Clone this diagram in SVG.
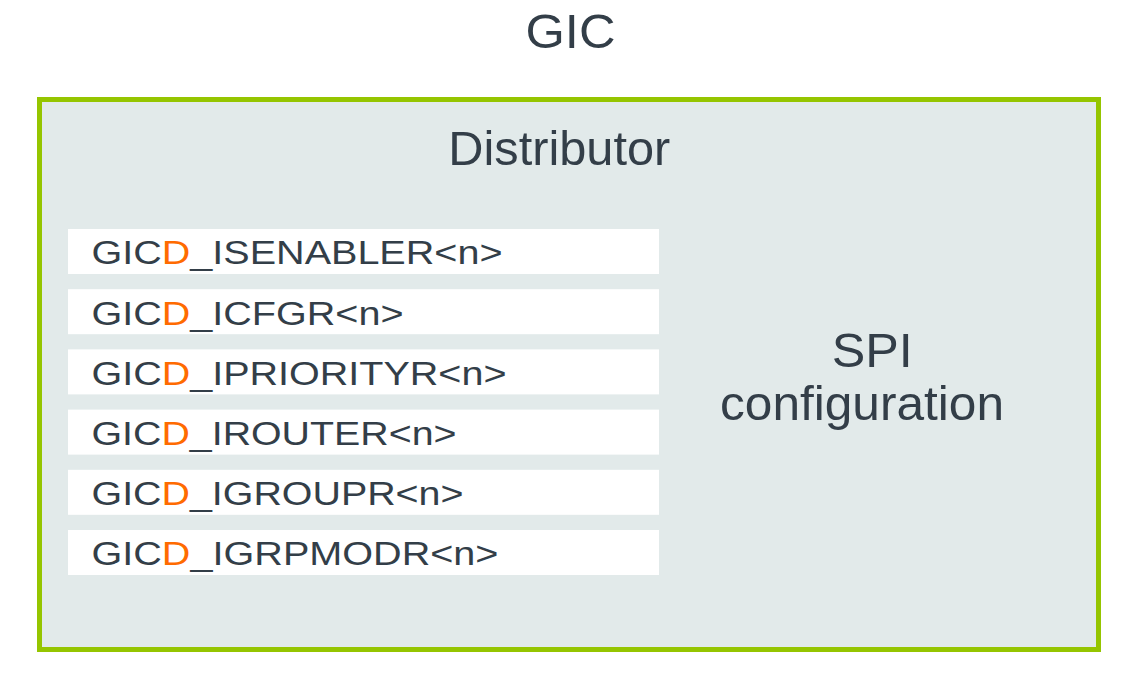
<svg xmlns="http://www.w3.org/2000/svg" width="1138" height="676" viewBox="0 0 1138 676">
<style>
text{font-family:"Liberation Sans",Arial,sans-serif;fill:#333e48}
.reg{font-size:34px}
.big{font-size:48px}
.o{fill:#ff6b00}
.box{fill:#ffffff}
</style>
<rect width="1138" height="676" fill="#ffffff"/>
<text id="title" class="big" x="570.5" y="47.7" text-anchor="middle" textLength="90" lengthAdjust="spacingAndGlyphs">GIC</text>
<g id="distributor">
<rect x="39.5" y="99.5" width="1059" height="550" fill="#e2eaea" stroke="#95c500" stroke-width="5"/>
<text class="big" x="559.3" y="165" text-anchor="middle" textLength="222" lengthAdjust="spacingAndGlyphs">Distributor</text>
</g>
<g id="reg1"><rect class="box" x="68" y="229" width="591" height="45"/><text class="reg" x="91.5" y="264.3" textLength="411" lengthAdjust="spacingAndGlyphs">GIC<tspan class="o">D</tspan>_ISENABLER&lt;n&gt;</text></g>
<g id="reg2"><rect class="box" x="68" y="289.2" width="591" height="45"/><text class="reg" x="91.5" y="324.5" textLength="312" lengthAdjust="spacingAndGlyphs">GIC<tspan class="o">D</tspan>_ICFGR&lt;n&gt;</text></g>
<g id="reg3"><rect class="box" x="68" y="349.4" width="591" height="45"/><text class="reg" x="91.5" y="384.7" textLength="415" lengthAdjust="spacingAndGlyphs">GIC<tspan class="o">D</tspan>_IPRIORITYR&lt;n&gt;</text></g>
<g id="reg4"><rect class="box" x="68" y="409.6" width="591" height="45"/><text class="reg" x="91.5" y="444.9" textLength="365" lengthAdjust="spacingAndGlyphs">GIC<tspan class="o">D</tspan>_IROUTER&lt;n&gt;</text></g>
<g id="reg5"><rect class="box" x="68" y="469.8" width="591" height="45"/><text class="reg" x="91.5" y="505.1" textLength="372" lengthAdjust="spacingAndGlyphs">GIC<tspan class="o">D</tspan>_IGROUPR&lt;n&gt;</text></g>
<g id="reg6"><rect class="box" x="68" y="530" width="591" height="45"/><text class="reg" x="91.5" y="565.3" textLength="407" lengthAdjust="spacingAndGlyphs">GIC<tspan class="o">D</tspan>_IGRPMODR&lt;n&gt;</text></g>
<g id="spi">
<text class="big" x="872.3" y="367.3" text-anchor="middle" textLength="81" lengthAdjust="spacingAndGlyphs">SPI</text>
<text class="big" x="862" y="420" text-anchor="middle" textLength="284" lengthAdjust="spacingAndGlyphs">configuration</text>
</g>
<g id="connectors"/>
</svg>
